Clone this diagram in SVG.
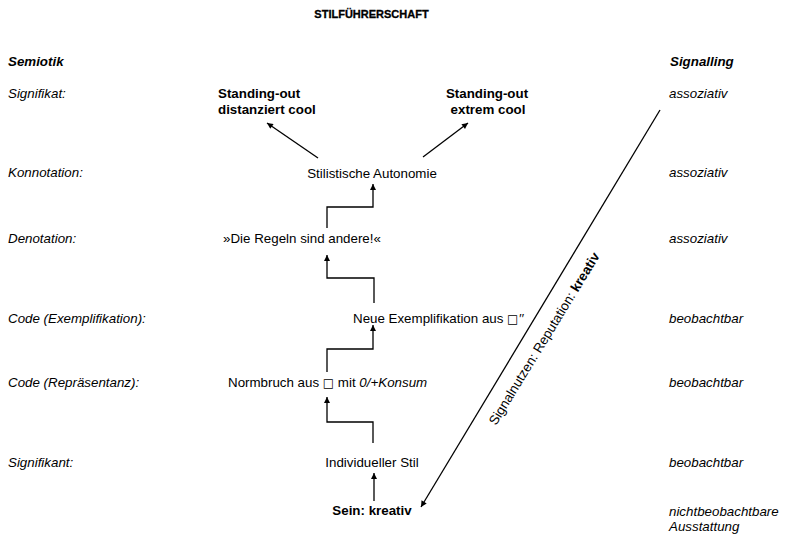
<svg xmlns="http://www.w3.org/2000/svg" width="786" height="535" viewBox="0 0 786 535">
<style>
text{font-family:"Liberation Sans",Arial,sans-serif;font-size:13.33px;fill:#000}
.it{font-style:italic}
.b{font-weight:bold}
.bi{font-weight:bold;font-style:italic}
.c{text-anchor:middle}
.sq{font-family:"DejaVu Sans",sans-serif;font-size:12px}
.title{font-size:11px;font-weight:900;text-anchor:middle;stroke:#000;stroke-width:0.3}
.con{fill:none;stroke:#000;stroke-width:1.3}
</style>
<defs>
<marker id="ah" viewBox="0 0 10 10" refX="10" refY="5" markerWidth="8" markerHeight="6" orient="auto" markerUnits="userSpaceOnUse">
<path d="M0,0 L10,5 L0,10 z" fill="#000"/>
</marker>
</defs>
<rect width="786" height="535" fill="#fff"/>
<g id="title"><text class="title" x="371.5" y="18">STILFÜHRERSCHAFT</text></g>
<g id="left-labels">
<text class="bi" x="8" y="66">Semiotik</text>
<text class="it" x="8" y="98">Signifikat:</text>
<text class="it" x="8" y="177">Konnotation:</text>
<text class="it" x="8" y="243">Denotation:</text>
<text class="it" x="8" y="323">Code (Exemplifikation):</text>
<text class="it" x="8" y="387">Code (Repräsentanz):</text>
<text class="it" x="8" y="467">Signifikant:</text>
</g>
<g id="right-labels">
<text class="bi" x="670" y="66">Signalling</text>
<text class="it" x="669" y="98">assoziativ</text>
<text class="it" x="669" y="177">assoziativ</text>
<text class="it" x="669" y="243">assoziativ</text>
<text class="it" x="669" y="323">beobachtbar</text>
<text class="it" x="669" y="387">beobachtbar</text>
<text class="it" x="669" y="467">beobachtbar</text>
<text class="it" x="669" y="516">nichtbeobachtbare</text>
<text class="it" x="669" y="531">Ausstattung</text>
</g>
<g id="standing-out-distanziert"><text class="b" x="218" y="98">Standing-out</text><text class="b" x="218" y="114">distanziert cool</text></g>
<g id="standing-out-extrem"><text class="b c" x="487" y="98">Standing-out</text><text class="b c" x="488" y="114">extrem cool</text></g>
<g id="autonomie"><text class="c" x="372" y="178">Stilistische Autonomie</text></g>
<g id="regeln"><text class="c" x="302" y="243">»Die Regeln sind andere!«</text></g>
<g id="exemplifikation"><text x="353" y="323">Neue Exemplifikation aus <tspan class="sq">□</tspan><tspan class="it">′′</tspan></text></g>
<g id="normbruch"><text x="228" y="387">Normbruch aus <tspan class="sq">□</tspan> mit <tspan class="it">0/+Konsum</tspan></text></g>
<g id="stil"><text class="c" x="372" y="467">Individueller Stil</text></g>
<g id="sein"><text class="b c" x="372" y="515">Sein: kreativ</text></g>
<g id="connectors">
<path class="con" d="M374,501 V473" marker-end="url(#ah)"/>
<path class="con" d="M373,443 V422 H327 V397" marker-end="url(#ah)"/>
<path class="con" d="M327,372 V349 H373 V325" marker-end="url(#ah)"/>
<path class="con" d="M374,303 V278 H327 V255" marker-end="url(#ah)"/>
<path class="con" d="M327,228 V207 H373 V184" marker-end="url(#ah)"/>
<path class="con" d="M318,158 L267,123" marker-end="url(#ah)"/>
<path class="con" d="M423,157 L468,123" marker-end="url(#ah)"/>
<path class="con" d="M660,110 L421,507" marker-end="url(#ah)"/>
<text transform="translate(496,426) rotate(-58.5)">Signalnutzen: Reputation: <tspan class="b">kreativ</tspan></text>
</g>
</svg>
